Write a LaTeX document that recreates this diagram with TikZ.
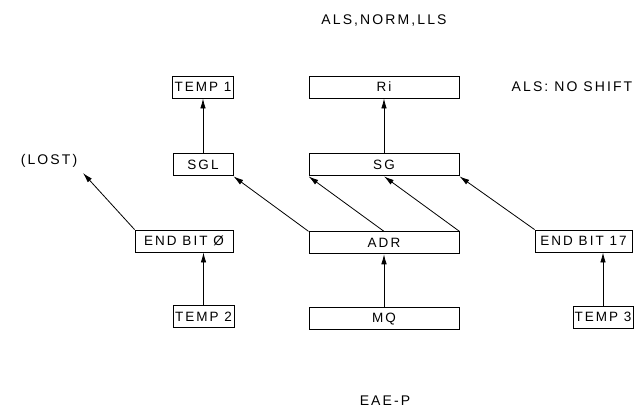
\documentclass[tikz,border=0pt]{standalone}
\usepackage{fontspec}
\usepackage{tikz}
\usetikzlibrary{arrows.meta, positioning}
\newfontfamily\lettr[LetterSpace=15]{Liberation Sans}
\newcommand{\boxfont}{\lettr\fontsize{13.5}{15}\selectfont}
\newcommand{\capfont}{\lettr\fontsize{14}{16}\selectfont}

\begin{document}
\begin{tikzpicture}[x=1pt, y=-1pt, font=\boxfont,
    reg/.style={draw, line width=0.9pt, minimum height=22pt, inner sep=0pt},
    flow/.style={-{Latex[length=10pt, width=5.5pt]}, line width=0.8pt}]
      \useasboundingbox (0,0) rectangle (644,418);
      % titolo
      \node[font=\capfont] (ttl) at (384,21) {ALS,NORM,LLS};
      \node[font=\capfont] (noshift) at (572,87) {ALS: NO SHIFT};
      % colonna registri
      \node[reg, minimum width=150pt] (ri) at (384,87) {Ri};
      \node[reg, minimum width=150pt, below=55pt of ri] (sg) {SG};
      \node[reg, minimum width=150pt, below=55pt of sg] (adr) {ADR};
      \node[reg, minimum width=150pt, below=53pt of adr] (mq) {MQ};
      % colonna sinistra
      \node[reg, minimum width=61pt] (temp1) at (203,87) {TEMP 1};
      \node[reg, minimum width=60pt, below=55pt of temp1] (sgl) {SGL};
      \node[reg, minimum width=98pt] (endbit0) at (184,241) {END BIT Ø};
      \node[reg, minimum width=61pt] (temp2) at (203.5,316.5) {TEMP 2};
      % colonna destra
      \node[reg, minimum width=97pt] (endbit17) at (583.5,241) {END BIT 17};
      \node[reg, minimum width=60pt] (temp3) at (603,317) {TEMP 3};
      % bit perso
      \node[font=\capfont] (lost) at (49,161) {(LOST)};
      \coordinate (lostend) at (83,173);
      % caption
      \node[font=\capfont] (eaep) at (385,401) {EAE-P};
      % frecce verticali
      \draw[flow] (sgl) -- (temp1);
      \draw[flow] (sg) -- (ri);
      \draw[flow] (mq) -- (adr);
      \draw[flow] (temp2.north) -- (temp2.north |- endbit0.south);
      \draw[flow] (temp3.north) -- (temp3.north |- endbit17.south);
      % frecce diagonali
      \draw[flow] (endbit0.north west) -- (lostend);
      \draw[flow] (adr.north west) -- (sgl.south east);
      \draw[flow] (adr.north) -- (sg.south west);
      \draw[flow] (adr.north east) -- (sg.south);
      \draw[flow] (endbit17.north west) -- (sg.south east);
    \end{tikzpicture}
\end{document}
